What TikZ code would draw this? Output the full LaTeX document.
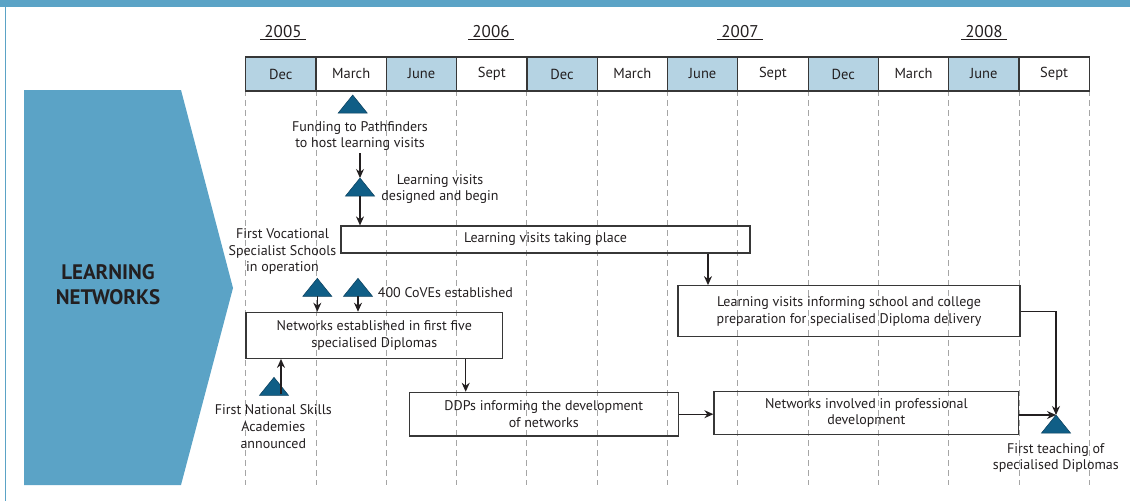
\documentclass[tikz,border=0pt]{standalone}
\usepackage{fontspec}
\setmainfont{PT Sans}
\usetikzlibrary{arrows.meta,calc}

\definecolor{frameblue}{RGB}{91,163,198}
\definecolor{cellblue}{RGB}{181,211,227}
\definecolor{ink}{RGB}{35,31,32}
\definecolor{gridline}{RGB}{55,55,55}
\definecolor{dashgray}{RGB}{165,165,165}
\definecolor{marker}{RGB}{16,94,134}
\definecolor{markeredge}{RGB}{10,62,92}

\tikzset{
  bodyfont/.style={font=\fontsize{14}{16.6}\selectfont},
  cell/.style={draw=gridline, line width=1.2pt, minimum width=70.3pt, minimum height=34pt,
    inner sep=0pt, text=ink, font=\fontsize{14.5}{16}\selectfont},
  yearlabel/.style={text=ink, font=\fontsize{17}{18}\selectfont, inner xsep=4pt, inner ysep=0pt, anchor=base},
  stagebox/.style={draw=gridline, line width=1.2pt, inner sep=0pt, align=center, text=ink, bodyfont},
  note/.style={inner sep=0pt, align=center, text=ink, bodyfont},
  flow/.style={draw=ink, line width=1.1pt, -{Stealth[length=9pt,width=8pt]}},
  dashline/.style={draw=dashgray, line width=0.9pt, dash pattern=on 6pt off 4pt},
  milestone/.pic={
    \filldraw[fill=marker, draw=markeredge, line width=0.5pt] (0,0) -- (14.5,18) -- (-14.5,18) -- cycle;
    \coordinate (-apex) at (0,0);
    \coordinate (-base) at (0,18);
  }
}

\begin{document}
\begin{tikzpicture}[x=1pt,y=-1pt]
\useasboundingbox (0,0) rectangle (1130,501);

% page frame
\fill[frameblue] (0,0) rectangle (1130,7);
\draw[frameblue, line width=1.2pt] (5.5,7) -- (5.5,501);

% side banner
\fill[frameblue] (24,90) -- (181,90) -- (233,288) -- (181,485) -- (24,485) -- cycle;
\node[text=ink, align=center, font=\fontsize{21}{25}\bfseries\selectfont] (banner) at (108,285) {LEARNING\\NETWORKS};

% years
\foreach \yr/\xc in {2005/283,2006/491,2007/740,2008/984} {
  \node[yearlabel] (y\yr) at (\xc,37.3) {\yr};
  \draw[ink, line width=1pt] ([yshift=-2.2pt]y\yr.base west) -- ([yshift=-2.2pt]y\yr.base east);
}

% guide lines
\foreach \i in {0,...,12} {
  \draw[dashline] ({245.7+70.3*\i},90) -- ({245.7+70.3*\i},485);
}

% month strip
\foreach \m [count=\i from 0] in {Dec,March,June,Sept,Dec,March,June,Sept,Dec,March,June,Sept} {
  \pgfmathtruncatemacro\odd{mod(\i,2)}
  \ifnum\odd=0 \def\cellfill{cellblue}\else\def\cellfill{white}\fi
  \node[cell, fill=\cellfill] (m\i) at ({245.7+70.3*(\i+0.5)},74) {\m};
}

% milestones
\pic (t1) at (352.7,95) {milestone};
\pic (t2) at (360,178) {milestone};
\pic (t3) at (317.3,278.3) {milestone};
\pic (t4) at (358,278.3) {milestone};
\pic (t5) at (274,377.3) {milestone};
\pic (t6) at (1056,415) {milestone};
\coordinate (nsaroot) at ($(t5-base)+(7,-1)$);

% notes
\node[note] (fund) at (360,136) {Funding to Pathfinders\\to host learning visits};
\node[note] (design) at (440,189) {Learning visits\\designed and begin};
\node[note] (vss) at (282.5,251.5) {First Vocational\\Specialist Schools\\in operation};
\node[note, anchor=west] (coves) at (377.7,293) {400 CoVEs established};
\node[note] (nsa) at (273.3,426.5) {First National Skills\\Academies\\announced};
\node[note] (teach) at (1055.8,458) {First teaching of\\specialised Diplomas};

% stage boxes
\node[stagebox, minimum width=409pt, minimum height=27pt] (lv) at (545.5,239.5) {Learning visits taking place};
\node[stagebox, minimum width=342pt, minimum height=51pt] (lvi) at (849,311.2) {Learning visits informing school and college\\preparation for specialised Diploma delivery};
\node[stagebox, minimum width=256.7pt, minimum height=46pt] (est) at (374.3,335.3) {Networks established in first five\\specialised Diplomas};
\node[stagebox, minimum width=269pt, minimum height=43.7pt] (ddp) at (543.8,414.2) {DDPs informing the development\\of networks};
\node[stagebox, minimum width=304.7pt, minimum height=42.6pt] (ni) at (866.3,413) {Networks involved in professional\\development};

% connectors
\draw[flow] (fund.south |- 0,153) -- (t2-apex);
\draw[flow] (t2-base) -- (t2-base |- lv.north);
\draw[flow] (t3-base) -- (t3-base |- est.north);
\draw[flow] (t4-base) -- (t4-base |- est.north);
\draw[flow] (nsaroot) -- (nsaroot |- est.south);
\draw[flow] (est.south -| 465.7,0) -- (465.7,0 |- ddp.north);
\draw[flow] (lv.south -| 708,0) -- (708,0 |- lvi.north);
\draw[flow] (ddp.east) -- (ddp.east -| ni.west);
\draw[flow] (lvi.east) -| (t6-apex);
\draw[flow] (ni.east |- t6-apex) -- (t6-apex);
\end{tikzpicture}
\end{document}
